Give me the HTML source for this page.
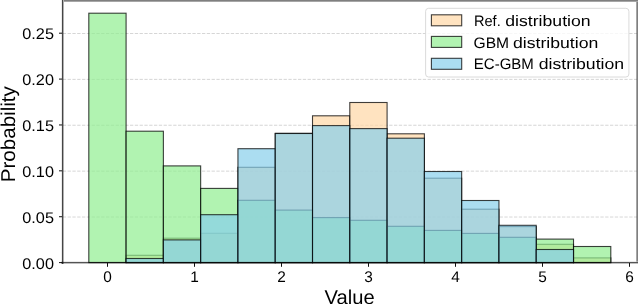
<!DOCTYPE html><html><head><meta charset="utf-8"><style>html,body{margin:0;padding:0;background:#fff;}svg{display:block;will-change:transform;}text{font-family:"Liberation Sans", sans-serif;fill:#000;opacity:0.999;text-rendering:geometricPrecision;}</style></head><body>
<svg width="638" height="304" viewBox="0 0 638 304">
<rect x="0" y="0" width="638" height="304" fill="#fff"/>
<line x1="62.8" y1="217.02" x2="636.8" y2="217.02" stroke="#b0b0b0" stroke-opacity="0.65" stroke-width="0.8" stroke-dasharray="3.3 1.5"/>
<line x1="62.8" y1="171.14" x2="636.8" y2="171.14" stroke="#b0b0b0" stroke-opacity="0.65" stroke-width="0.8" stroke-dasharray="3.3 1.5"/>
<line x1="62.8" y1="125.26" x2="636.8" y2="125.26" stroke="#b0b0b0" stroke-opacity="0.65" stroke-width="0.8" stroke-dasharray="3.3 1.5"/>
<line x1="62.8" y1="79.38" x2="636.8" y2="79.38" stroke="#b0b0b0" stroke-opacity="0.65" stroke-width="0.8" stroke-dasharray="3.3 1.5"/>
<line x1="62.8" y1="33.50" x2="636.8" y2="33.50" stroke="#b0b0b0" stroke-opacity="0.65" stroke-width="0.8" stroke-dasharray="3.3 1.5"/>
<rect x="126.09" y="255.30" width="37.29" height="7.30" fill="#FFD7A5" fill-opacity="0.7" stroke="#000" stroke-opacity="0.75" stroke-width="1.1"/>
<rect x="163.37" y="238.20" width="37.29" height="24.40" fill="#FFD7A5" fill-opacity="0.7" stroke="#000" stroke-opacity="0.75" stroke-width="1.1"/>
<rect x="200.66" y="233.30" width="37.29" height="29.30" fill="#FFD7A5" fill-opacity="0.7" stroke="#000" stroke-opacity="0.75" stroke-width="1.1"/>
<rect x="237.94" y="167.30" width="37.29" height="95.30" fill="#FFD7A5" fill-opacity="0.7" stroke="#000" stroke-opacity="0.75" stroke-width="1.1"/>
<rect x="275.23" y="133.30" width="37.29" height="129.30" fill="#FFD7A5" fill-opacity="0.7" stroke="#000" stroke-opacity="0.75" stroke-width="1.1"/>
<rect x="312.51" y="115.80" width="37.29" height="146.80" fill="#FFD7A5" fill-opacity="0.7" stroke="#000" stroke-opacity="0.75" stroke-width="1.1"/>
<rect x="349.80" y="102.50" width="37.29" height="160.10" fill="#FFD7A5" fill-opacity="0.7" stroke="#000" stroke-opacity="0.75" stroke-width="1.1"/>
<rect x="387.09" y="133.80" width="37.29" height="128.80" fill="#FFD7A5" fill-opacity="0.7" stroke="#000" stroke-opacity="0.75" stroke-width="1.1"/>
<rect x="424.37" y="178.20" width="37.29" height="84.40" fill="#FFD7A5" fill-opacity="0.7" stroke="#000" stroke-opacity="0.75" stroke-width="1.1"/>
<rect x="461.66" y="209.20" width="37.29" height="53.40" fill="#FFD7A5" fill-opacity="0.7" stroke="#000" stroke-opacity="0.75" stroke-width="1.1"/>
<rect x="498.94" y="226.60" width="37.29" height="36.00" fill="#FFD7A5" fill-opacity="0.7" stroke="#000" stroke-opacity="0.75" stroke-width="1.1"/>
<rect x="536.23" y="244.30" width="37.29" height="18.30" fill="#FFD7A5" fill-opacity="0.7" stroke="#000" stroke-opacity="0.75" stroke-width="1.1"/>
<rect x="573.51" y="257.90" width="37.29" height="4.70" fill="#FFD7A5" fill-opacity="0.7" stroke="#000" stroke-opacity="0.75" stroke-width="1.1"/>
<rect x="88.80" y="13.20" width="37.29" height="249.40" fill="#90EE90" fill-opacity="0.7" stroke="#000" stroke-opacity="0.75" stroke-width="1.1"/>
<rect x="126.09" y="131.20" width="37.29" height="131.40" fill="#90EE90" fill-opacity="0.7" stroke="#000" stroke-opacity="0.75" stroke-width="1.1"/>
<rect x="163.37" y="165.90" width="37.29" height="96.70" fill="#90EE90" fill-opacity="0.7" stroke="#000" stroke-opacity="0.75" stroke-width="1.1"/>
<rect x="200.66" y="188.40" width="37.29" height="74.20" fill="#90EE90" fill-opacity="0.7" stroke="#000" stroke-opacity="0.75" stroke-width="1.1"/>
<rect x="237.94" y="200.30" width="37.29" height="62.30" fill="#90EE90" fill-opacity="0.7" stroke="#000" stroke-opacity="0.75" stroke-width="1.1"/>
<rect x="275.23" y="210.10" width="37.29" height="52.50" fill="#90EE90" fill-opacity="0.7" stroke="#000" stroke-opacity="0.75" stroke-width="1.1"/>
<rect x="312.51" y="217.60" width="37.29" height="45.00" fill="#90EE90" fill-opacity="0.7" stroke="#000" stroke-opacity="0.75" stroke-width="1.1"/>
<rect x="349.80" y="220.30" width="37.29" height="42.30" fill="#90EE90" fill-opacity="0.7" stroke="#000" stroke-opacity="0.75" stroke-width="1.1"/>
<rect x="387.09" y="226.30" width="37.29" height="36.30" fill="#90EE90" fill-opacity="0.7" stroke="#000" stroke-opacity="0.75" stroke-width="1.1"/>
<rect x="424.37" y="230.40" width="37.29" height="32.20" fill="#90EE90" fill-opacity="0.7" stroke="#000" stroke-opacity="0.75" stroke-width="1.1"/>
<rect x="461.66" y="233.40" width="37.29" height="29.20" fill="#90EE90" fill-opacity="0.7" stroke="#000" stroke-opacity="0.75" stroke-width="1.1"/>
<rect x="498.94" y="237.30" width="37.29" height="25.30" fill="#90EE90" fill-opacity="0.7" stroke="#000" stroke-opacity="0.75" stroke-width="1.1"/>
<rect x="536.23" y="239.10" width="37.29" height="23.50" fill="#90EE90" fill-opacity="0.7" stroke="#000" stroke-opacity="0.75" stroke-width="1.1"/>
<rect x="573.51" y="246.50" width="37.29" height="16.10" fill="#90EE90" fill-opacity="0.7" stroke="#000" stroke-opacity="0.75" stroke-width="1.1"/>
<rect x="126.09" y="258.50" width="37.29" height="4.10" fill="#87CEEB" fill-opacity="0.7" stroke="#000" stroke-opacity="0.75" stroke-width="1.1"/>
<rect x="163.37" y="239.90" width="37.29" height="22.70" fill="#87CEEB" fill-opacity="0.7" stroke="#000" stroke-opacity="0.75" stroke-width="1.1"/>
<rect x="200.66" y="214.70" width="37.29" height="47.90" fill="#87CEEB" fill-opacity="0.7" stroke="#000" stroke-opacity="0.75" stroke-width="1.1"/>
<rect x="237.94" y="148.70" width="37.29" height="113.90" fill="#87CEEB" fill-opacity="0.7" stroke="#000" stroke-opacity="0.75" stroke-width="1.1"/>
<rect x="275.23" y="133.50" width="37.29" height="129.10" fill="#87CEEB" fill-opacity="0.7" stroke="#000" stroke-opacity="0.75" stroke-width="1.1"/>
<rect x="312.51" y="125.60" width="37.29" height="137.00" fill="#87CEEB" fill-opacity="0.7" stroke="#000" stroke-opacity="0.75" stroke-width="1.1"/>
<rect x="349.80" y="128.60" width="37.29" height="134.00" fill="#87CEEB" fill-opacity="0.7" stroke="#000" stroke-opacity="0.75" stroke-width="1.1"/>
<rect x="387.09" y="138.20" width="37.29" height="124.40" fill="#87CEEB" fill-opacity="0.7" stroke="#000" stroke-opacity="0.75" stroke-width="1.1"/>
<rect x="424.37" y="171.50" width="37.29" height="91.10" fill="#87CEEB" fill-opacity="0.7" stroke="#000" stroke-opacity="0.75" stroke-width="1.1"/>
<rect x="461.66" y="200.50" width="37.29" height="62.10" fill="#87CEEB" fill-opacity="0.7" stroke="#000" stroke-opacity="0.75" stroke-width="1.1"/>
<rect x="498.94" y="225.30" width="37.29" height="37.30" fill="#87CEEB" fill-opacity="0.7" stroke="#000" stroke-opacity="0.75" stroke-width="1.1"/>
<rect x="536.23" y="249.50" width="37.29" height="13.10" fill="#87CEEB" fill-opacity="0.7" stroke="#000" stroke-opacity="0.75" stroke-width="1.1"/>
<rect x="61" y="0" width="1" height="264" fill="#000" fill-opacity="0.08"/>
<rect x="62" y="0" width="1" height="264" fill="#000" fill-opacity="0.73"/>
<rect x="63" y="0" width="1" height="264" fill="#000" fill-opacity="0.31"/>
<rect x="61" y="261" width="577" height="1" fill="#000" fill-opacity="0.08"/>
<rect x="61" y="262" width="577" height="1" fill="#000" fill-opacity="0.67"/>
<rect x="61" y="263" width="577" height="1" fill="#000" fill-opacity="0.25"/>
<rect x="64" y="0" width="574" height="1" fill="#000" fill-opacity="0.5"/>
<rect x="64" y="1" width="574" height="1" fill="#000" fill-opacity="0.35"/>
<rect x="636" y="2" width="1" height="259.6" fill="#000" fill-opacity="0.35"/>
<rect x="637" y="2" width="1" height="259.6" fill="#000" fill-opacity="0.5"/>
<line x1="59.0" y1="262.60" x2="62" y2="262.60" stroke="#111" stroke-width="1.0"/>
<text x="54.0" y="268.50" font-size="15.4" text-anchor="end" textLength="31.7" lengthAdjust="spacingAndGlyphs">0.00</text>
<line x1="59.0" y1="216.72" x2="62" y2="216.72" stroke="#111" stroke-width="1.0"/>
<text x="54.0" y="222.62" font-size="15.4" text-anchor="end" textLength="31.7" lengthAdjust="spacingAndGlyphs">0.05</text>
<line x1="59.0" y1="170.84" x2="62" y2="170.84" stroke="#111" stroke-width="1.0"/>
<text x="54.0" y="176.74" font-size="15.4" text-anchor="end" textLength="31.7" lengthAdjust="spacingAndGlyphs">0.10</text>
<line x1="59.0" y1="124.96" x2="62" y2="124.96" stroke="#111" stroke-width="1.0"/>
<text x="54.0" y="130.86" font-size="15.4" text-anchor="end" textLength="31.7" lengthAdjust="spacingAndGlyphs">0.15</text>
<line x1="59.0" y1="79.08" x2="62" y2="79.08" stroke="#111" stroke-width="1.0"/>
<text x="54.0" y="84.98" font-size="15.4" text-anchor="end" textLength="31.7" lengthAdjust="spacingAndGlyphs">0.20</text>
<line x1="59.0" y1="33.20" x2="62" y2="33.20" stroke="#111" stroke-width="1.0"/>
<text x="54.0" y="39.10" font-size="15.4" text-anchor="end" textLength="31.7" lengthAdjust="spacingAndGlyphs">0.25</text>
<line x1="107.50" y1="263" x2="107.50" y2="266.8" stroke="#111" stroke-width="1.0"/>
<text x="107.50" y="281.6" font-size="15.4" text-anchor="middle">0</text>
<line x1="194.50" y1="263" x2="194.50" y2="266.8" stroke="#111" stroke-width="1.0"/>
<text x="194.50" y="281.6" font-size="15.4" text-anchor="middle">1</text>
<line x1="281.50" y1="263" x2="281.50" y2="266.8" stroke="#111" stroke-width="1.0"/>
<text x="281.50" y="281.6" font-size="15.4" text-anchor="middle">2</text>
<line x1="368.50" y1="263" x2="368.50" y2="266.8" stroke="#111" stroke-width="1.0"/>
<text x="368.50" y="281.6" font-size="15.4" text-anchor="middle">3</text>
<line x1="455.50" y1="263" x2="455.50" y2="266.8" stroke="#111" stroke-width="1.0"/>
<text x="455.50" y="281.6" font-size="15.4" text-anchor="middle">4</text>
<line x1="542.50" y1="263" x2="542.50" y2="266.8" stroke="#111" stroke-width="1.0"/>
<text x="542.50" y="281.6" font-size="15.4" text-anchor="middle">5</text>
<line x1="629.50" y1="263" x2="629.50" y2="266.8" stroke="#111" stroke-width="1.0"/>
<text x="629.50" y="281.6" font-size="15.4" text-anchor="middle">6</text>
<text x="349.6" y="304" font-size="20" text-anchor="middle" textLength="50" lengthAdjust="spacingAndGlyphs">Value</text>
<text transform="translate(14.8,134.2) rotate(-90)" x="0" y="0" font-size="20" text-anchor="middle" textLength="96" lengthAdjust="spacingAndGlyphs">Probability</text>
<rect x="425.6" y="8.3" width="203.3" height="68.7" rx="3" ry="3" fill="#fff" fill-opacity="0.8" stroke="#d6d6d6" stroke-width="0.9"/>
<rect x="431.4" y="14.80" width="30.3" height="11" fill="#FFD7A5" fill-opacity="0.7" stroke="#000" stroke-opacity="0.75" stroke-width="1.1"/>
<text x="473.9" y="25.8" font-size="15.1" textLength="26.8" lengthAdjust="spacingAndGlyphs">Ref.</text>
<text x="505.3" y="25.8" font-size="15.1" textLength="85.3" lengthAdjust="spacingAndGlyphs">distribution</text>
<rect x="431.4" y="36.40" width="30.3" height="11" fill="#90EE90" fill-opacity="0.7" stroke="#000" stroke-opacity="0.75" stroke-width="1.1"/>
<text x="473.5" y="47.7" font-size="15.1" textLength="35.6" lengthAdjust="spacingAndGlyphs">GBM</text>
<text x="513.0" y="47.7" font-size="15.1" textLength="85.3" lengthAdjust="spacingAndGlyphs">distribution</text>
<rect x="431.4" y="58.30" width="30.3" height="11" fill="#87CEEB" fill-opacity="0.7" stroke="#000" stroke-opacity="0.75" stroke-width="1.1"/>
<text x="473.8" y="69.1" font-size="15.1" textLength="60.0" lengthAdjust="spacingAndGlyphs">EC-GBM</text>
<text x="538.8" y="69.1" font-size="15.1" textLength="85.3" lengthAdjust="spacingAndGlyphs">distribution</text>
</svg></body></html>
